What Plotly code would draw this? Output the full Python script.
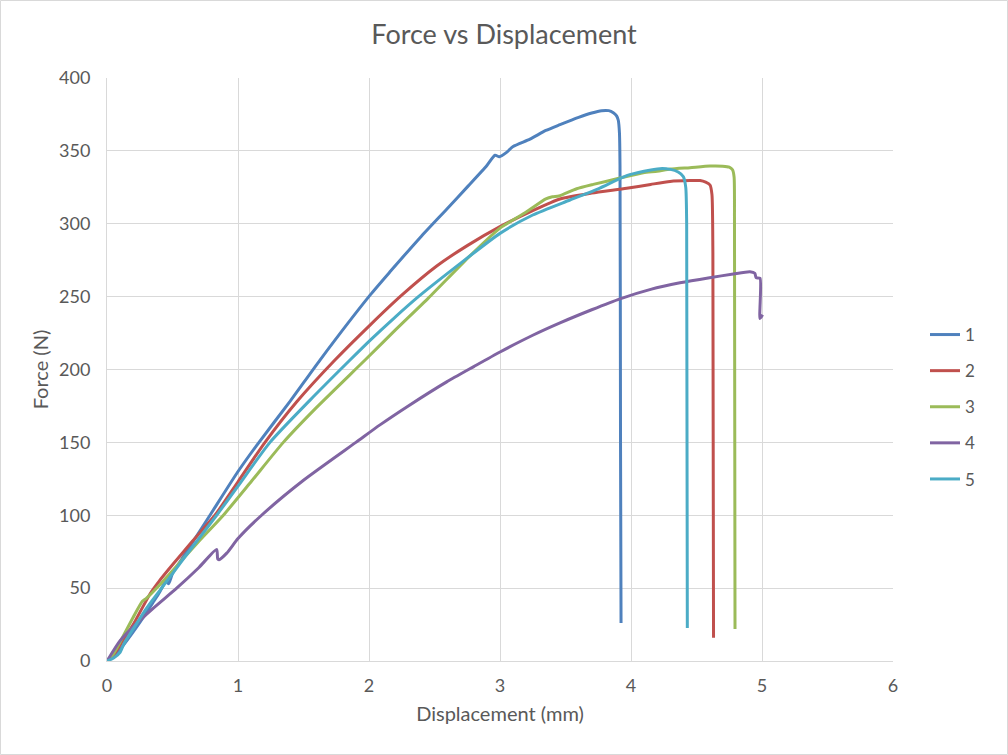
import plotly.graph_objects as go

# Specimen force-displacement curves (displacement in mm, force in N)
disp_1 = [0, 0.05, 0.1, 0.2, 0.3, 0.35, 0.4, 0.43, 0.45, 0.47, 0.5, 0.6, 0.786, 1.0, 1.143, 1.4,
          1.626, 2.008, 2.16, 2.4, 2.593, 2.758, 2.9, 2.962, 2.995, 3.05, 3.10, 3.229, 3.35,
          3.458, 3.6, 3.7, 3.776, 3.83, 3.865, 3.89, 3.903, 3.912, 3.916, 3.92, 3.924]
force_1 = [0, 3, 8, 20, 33, 40, 47, 52, 55, 53, 60, 74, 100, 130, 148, 178.5,
           206.5, 251, 267, 291.5, 310, 326, 340, 347, 346, 349, 353, 358, 364,
           368, 373, 376, 377.6, 377.6, 376.2, 374, 371, 362, 340, 150, 26]

disp_2 = [0, 0.05, 0.1, 0.2, 0.328, 0.4, 0.5, 0.65, 0.824, 1.0, 1.206, 1.45, 1.74, 2.008,
          2.25, 2.517, 2.75, 3.0, 3.25, 3.458, 3.7, 3.967, 4.15, 4.298, 4.45, 4.527, 4.57,
          4.603, 4.618, 4.625, 4.63]
force_2 = [0, 4, 11, 25, 46, 55, 66, 82, 100, 123, 150, 178, 206.5, 230.5,
           251, 271, 285, 298, 309, 317, 321, 324.3, 327, 329, 329.6, 329.6, 328.5,
           326.6, 320, 280, 16]

disp_3 = [0, 0.05, 0.1, 0.2, 0.27, 0.3, 0.4, 0.5, 0.7, 0.888, 1.1, 1.346, 1.6, 1.97, 2.2,
          2.453, 2.771, 3.0, 3.2, 3.35, 3.4, 3.45, 3.585, 3.712, 3.9, 4.094, 4.2, 4.3,
          4.45, 4.603, 4.70, 4.75, 4.775, 4.787, 4.79, 4.794]
force_3 = [0, 5, 13, 30, 41, 43, 52, 62, 82, 100, 123, 150, 174, 206.5, 227,
           249, 278, 297, 308, 317, 318.5, 319, 324, 327, 331, 335, 336, 337.5,
           338.5, 339.6, 339.5, 338.8, 337, 332, 300, 22]

disp_4 = [0, 0.1, 0.2, 0.35, 0.532, 0.7, 0.837, 0.845, 0.855, 0.914, 1.0, 1.18, 1.5, 1.9,
          2.084, 2.3, 2.593, 2.8, 3.0, 3.25, 3.458, 3.7, 3.916, 4.15, 4.374, 4.6, 4.781,
          4.908, 4.945, 4.955, 4.985, 4.985, 5.005]
force_4 = [0, 14, 23.5, 36, 50, 64, 76.5, 70, 69.5, 74, 84, 100, 124, 150,
           162, 175, 191.5, 202, 212, 223.5, 232, 241, 248.5, 255, 259.5, 263, 265.5,
           267, 266, 263, 262.6, 235, 237.5]

disp_5 = [0, 0.05, 0.1, 0.13, 0.2, 0.3, 0.4, 0.5, 0.65, 0.837, 1.0, 1.244, 1.55, 1.855,
          2.008, 2.2, 2.377, 2.7, 3.0, 3.25, 3.534, 3.75, 3.967, 4.1, 4.221, 4.3, 4.36,
          4.4, 4.418, 4.425, 4.43]
force_5 = [0, 2, 6, 12, 22, 36, 48, 60, 78, 100, 120, 150, 179, 206.5,
           220, 236, 250, 273, 293.4, 306, 316.3, 324, 333, 336, 337.8, 337.3, 335.5,
           332.3, 325, 300, 22.6]

series_names = ["1", "2", "3", "4", "5"]
series_x = [disp_1, disp_2, disp_3, disp_4, disp_5]
series_y = [force_1, force_2, force_3, force_4, force_5]
colors = ["#4F81BD", "#C0504D", "#9BBB59", "#8064A2", "#4BACC6"]

x_ticks = [0, 1, 2, 3, 4, 5, 6]
y_ticks = [0, 50, 100, 150, 200, 250, 300, 350, 400]

FONT = "Lato, 'Open Sans', sans-serif"
TEXT = "#595959"
GRID = "#D9D9D9"

fig = go.Figure()
for name, xs, ys, col in zip(series_names, series_x, series_y, colors):
    fig.add_trace(go.Scatter(
        x=xs, y=ys, name=name, mode="lines", legendgroup=name,
        line=dict(color=col, width=3, shape="spline", smoothing=0.6),
    ))

# plot area spans 107..893 px horizontally and 78..661 px vertically
L, R, T, B = 107, 115, 78, 94
W, H = 1008, 755
pw, ph = W - L - R, H - T - B

fig.update_layout(
    width=W, height=H,
    margin=dict(l=L, r=R, t=T, b=B),
    paper_bgcolor="white", plot_bgcolor="white",
    font=dict(family=FONT, color=TEXT, size=13),
    title=dict(text="Force vs Displacement", x=0.5, xanchor="center",
               y=1 - 35 / H, yanchor="middle",
               font=dict(family=FONT, size=27, color=TEXT)),
    legend=dict(x=(925 - L) / pw, xanchor="left", y=(661 - 317) / ph, yanchor="top",
                font=dict(family=FONT, size=17, color=TEXT),
                tracegroupgap=11, bgcolor="rgba(0,0,0,0)"),
    xaxis=dict(range=[0, 6], tickvals=x_ticks, showgrid=True, gridcolor=GRID, gridwidth=1,
               showline=True, linecolor=GRID, linewidth=1, zeroline=False,
               ticks="", tickfont=dict(size=18, color=TEXT), ticklabelstandoff=8,
               title=dict(text="Displacement (mm)", font=dict(size=20, color=TEXT), standoff=12)),
    yaxis=dict(range=[0, 400], tickvals=y_ticks, showgrid=True, gridcolor=GRID, gridwidth=1,
               showline=True, linecolor=GRID, linewidth=1, zeroline=False,
               ticks="", tickfont=dict(size=18, color=TEXT), ticklabelstandoff=12,
               title=dict(text="Force (N)", font=dict(size=20, color=TEXT), standoff=5)),
    shapes=[dict(type="rect", xref="paper", yref="paper",
                 x0=(0.5 - L) / pw, x1=(W - 0.5 - L) / pw,
                 y0=(661 - (H - 0.5)) / ph, y1=(661 - 0.5) / ph,
                 line=dict(color=GRID, width=1), fillcolor="rgba(0,0,0,0)", layer="below")],
)

fig.write_html("out.html")
